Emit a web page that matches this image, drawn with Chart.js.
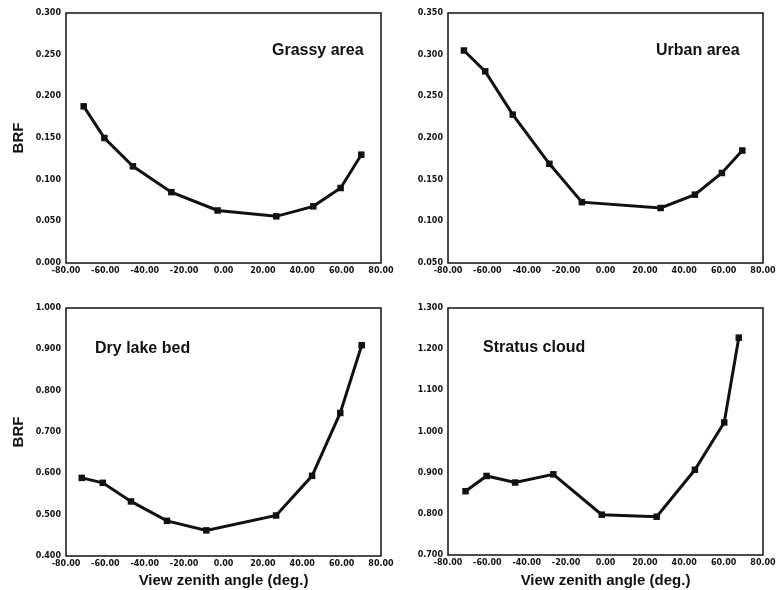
<!DOCTYPE html>
<html>
<head>
<meta charset="utf-8">
<title>BRF vs view zenith angle</title>
<script src="https://cdn.jsdelivr.net/npm/chart.js@4"></script>
<style>
  body { margin: 0; background: #fff; }
  #wrap { position: relative; width: 776px; height: 590px; background: #fff; overflow: hidden; }
  .panel { position: absolute; }
</style>
</head>
<body>
<div id="wrap">
  <div class="panel" style="left:0;top:0"><canvas id="chartGrassy" width="410" height="290"></canvas></div>
  <div class="panel" style="left:388px;top:0"><canvas id="chartUrban" width="388" height="290"></canvas></div>
  <div class="panel" style="left:0;top:290px"><canvas id="chartLake" width="410" height="300"></canvas></div>
  <div class="panel" style="left:388px;top:290px"><canvas id="chartCloud" width="388" height="300"></canvas></div>
</div>
<script>

// ---- data ----
const grassyAngles = [-71, -60.5, -46, -26.5, -3, 26.8, 45.6, 59.5, 70];
const grassyBrf    = [0.188, 0.150, 0.116, 0.085, 0.063, 0.056, 0.068, 0.090, 0.130];

const urbanAngles = [-71.9, -61.1, -47.1, -28.5, -12.0, 28.0, 45.4, 59.1, 69.5];
const urbanBrf    = [0.305, 0.280, 0.228, 0.169, 0.123, 0.116, 0.132, 0.158, 0.185];

const lakeAngles = [-72, -61.3, -47, -28.7, -8.7, 26.7, 45, 59.3, 70.2];
const lakeBrf    = [0.589, 0.577, 0.532, 0.485, 0.462, 0.498, 0.594, 0.746, 0.910];

const cloudAngles = [-71.1, -60.4, -45.9, -26.5, -1.9, 26.0, 45.4, 60.3, 67.7];
const cloudBrf    = [0.855, 0.892, 0.876, 0.896, 0.798, 0.793, 0.907, 1.022, 1.228];

// axis ranges [min, max, step]
const xRange      = [-80, 80, 20];
const grassyRange = [0.0, 0.3, 0.05];
const urbanRange  = [0.05, 0.35, 0.05];
const lakeRange   = [0.4, 1.0, 0.1];
const cloudRange  = [0.7, 1.3, 0.1];

const INK = '#111';
const FONT = '"Liberation Sans", Arial, Helvetica, sans-serif';
const TICK_FONT = { family: '"DejaVu Sans", sans-serif', size: 8, weight: 'bold' };

// box round the plot area
const framePlugin = {
    id: 'frame',
    beforeDatasetsDraw(chart) {
        const a = chart.chartArea, ctx = chart.ctx;
        ctx.save();
        ctx.strokeStyle = INK;
        ctx.lineWidth = 1.5;
        ctx.strokeRect(a.left, a.top, a.right - a.left, a.bottom - a.top);
        ctx.restore();
    }
};

// label written inside each panel
const panelLabelPlugin = {
    id: 'panelLabel',
    afterDraw(chart, args, opts) {
        const a = chart.chartArea, ctx = chart.ctx;
        ctx.save();
        ctx.font = 'bold 16px ' + FONT;
        ctx.fillStyle = INK;
        ctx.textBaseline = 'alphabetic';
        ctx.fillText(opts.text, a.left + opts.x, a.top + opts.y);
        ctx.restore();
    }
};

function makePanel(canvasId, angles, brf, yRange, label, lay) {
    const points = angles.map((a, i) => ({ x: a, y: brf[i] }));

    return new Chart(document.getElementById(canvasId), {
        type: 'scatter',
        data: {
            datasets: [{
                data: points,
                showLine: true,
                borderColor: INK,
                borderWidth: 3,
                tension: 0,
                pointStyle: 'rect',
                pointRadius: 4.6,
                pointBorderWidth: 0,
                pointBackgroundColor: INK,
                pointBorderColor: INK
            }]
        },
        plugins: [framePlugin, panelLabelPlugin],
        options: {
            responsive: false,
            animation: false,
            devicePixelRatio: 1,
            layout: {
                padding: { left: 0, top: lay.padTop, right: lay.padRight, bottom: 0 }
            },
            plugins: {
                legend: { display: false },
                tooltip: { enabled: false },
                panelLabel: { text: label, x: lay.labelX, y: lay.labelY }
            },
            scales: {
                x: {
                    type: 'linear',
                    min: xRange[0],
                    max: xRange[1],
                    grid: { display: false, drawTicks: false },
                    border: { display: false },
                    afterFit(scale) {
                        scale.height = lay.xHeight;
                        // labels may hang over the plot edges, like the original
                        scale.paddingLeft = 0;
                        scale.paddingRight = 0;
                    },
                    ticks: {
                        stepSize: xRange[2],
                        autoSkip: false,
                        maxRotation: 0,
                        padding: 3,
                        color: INK,
                        font: TICK_FONT,
                        callback: v => v.toFixed(2)
                    },
                    title: {
                        display: lay.xTitle,
                        text: 'View zenith angle (deg.)',
                        color: INK,
                        padding: { top: 0, bottom: 0 },
                        font: { family: FONT, size: 15, weight: 'bold' }
                    }
                },
                y: {
                    min: yRange[0],
                    max: yRange[1],
                    grid: { display: false, drawTicks: false },
                    border: { display: false },
                    afterFit(scale) {
                        scale.width = lay.yWidth;
                        scale.paddingTop = 0;
                        scale.paddingBottom = 0;
                    },
                    ticks: {
                        stepSize: yRange[2],
                        padding: 5,
                        color: INK,
                        font: TICK_FONT,
                        callback: v => v.toFixed(3)
                    },
                    title: {
                        display: lay.brfTitle,
                        text: 'BRF',
                        color: INK,
                        padding: { top: 10, bottom: 0 },
                        font: { family: FONT, size: 15, weight: 'bold' }
                    }
                }
            }
        }
    });
}

//Chart Init
makePanel('chartGrassy', grassyAngles, grassyBrf, grassyRange, 'Grassy area',
    { yWidth: 66, padTop: 13, padRight: 29, xHeight: 27, brfTitle: true, xTitle: false, labelX: 206, labelY: 41.5 });

makePanel('chartUrban', urbanAngles, urbanBrf, urbanRange, 'Urban area',
    { yWidth: 60, padTop: 13, padRight: 13, xHeight: 27, brfTitle: false, xTitle: false, labelX: 208, labelY: 41.5 });

makePanel('chartLake', lakeAngles, lakeBrf, lakeRange, 'Dry lake bed',
    { yWidth: 66, padTop: 18, padRight: 29, xHeight: 34, brfTitle: true, xTitle: true, labelX: 29, labelY: 45 });

makePanel('chartCloud', cloudAngles, cloudBrf, cloudRange, 'Stratus cloud',
    { yWidth: 60, padTop: 18, padRight: 13, xHeight: 35, brfTitle: false, xTitle: true, labelX: 35, labelY: 44 });

</script>
</body>
</html>
